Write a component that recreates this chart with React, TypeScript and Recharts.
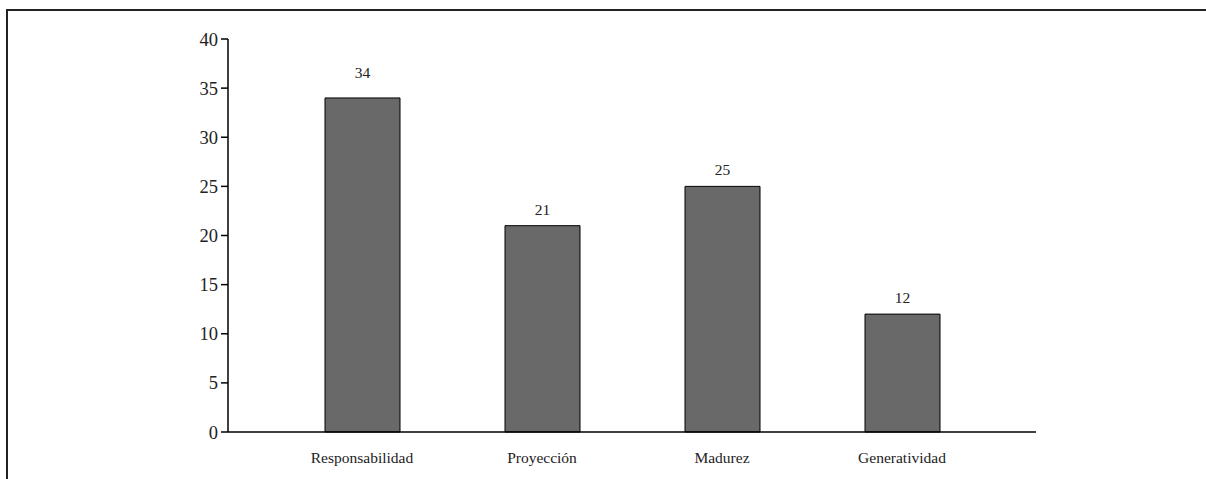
import { BarChart, Bar, XAxis, YAxis, LabelList } from 'recharts';

const categories = ['Responsabilidad', 'Proyección', 'Madurez', 'Generatividad'];
const values = [34, 21, 25, 12];
const yTicks = [0, 5, 10, 15, 20, 25, 30, 35, 40];

const data = categories.map((name, i) => ({ name, value: values[i] }));

const FONT = 'Liberation Serif';

function ValueLabel(props: any) {
  const { x, y, width, value, index } = props;
  const extra = index === 0 ? 9 : 0;
  return (
    <text
      x={x + width / 2}
      y={y - 11 - extra}
      textAnchor="middle"
      style={{ fontFamily: FONT, fontSize: 15.5 }}
      fill="#222"
    >
      {value}
    </text>
  );
}

export default function App() {
  return (
    <div style={{ position: 'absolute', left: 0, top: 0, width: 1206, height: 479, overflow: 'hidden', background: '#fff', fontFamily: FONT }}>
      {/* frame */}
      <div style={{ position: 'absolute', left: 6, top: 9, width: 1300, height: 600, border: '2px solid #222', boxSizing: 'border-box' }} />
      <div style={{ position: 'absolute', left: 0, top: 0 }}>
        <BarChart
          width={1206}
          height={479}
          data={data}
          margin={{ top: 39, right: 170, bottom: 0, left: 178 }}
          barSize={75}
          style={{ fontFamily: FONT }}
        >
          <XAxis
            dataKey="name"
            axisLine={{ stroke: '#000', strokeWidth: 1.5 }}
            tickLine={false}
            padding={{ left: 44, right: 44 }}
            tick={{ fontSize: 15.5, fill: '#222', style: { fontFamily: FONT } }}
            tickMargin={14}
            height={47}
            interval={0}
          />
          <YAxis
            domain={[0, 40]}
            ticks={yTicks}
            width={50}
            axisLine={{ stroke: '#000', strokeWidth: 1.5 }}
            tickLine={{ stroke: '#000', strokeWidth: 1.5 }}
            tickSize={7}
            tickMargin={3}
            tick={{ fontSize: 18.5, fill: '#222', style: { fontFamily: FONT } }}
          />
          <Bar dataKey="value" fill="#696969" stroke="#000" strokeWidth={1} isAnimationActive={false}>
            <LabelList dataKey="value" content={<ValueLabel />} />
          </Bar>
        </BarChart>
      </div>
    </div>
  );
}
